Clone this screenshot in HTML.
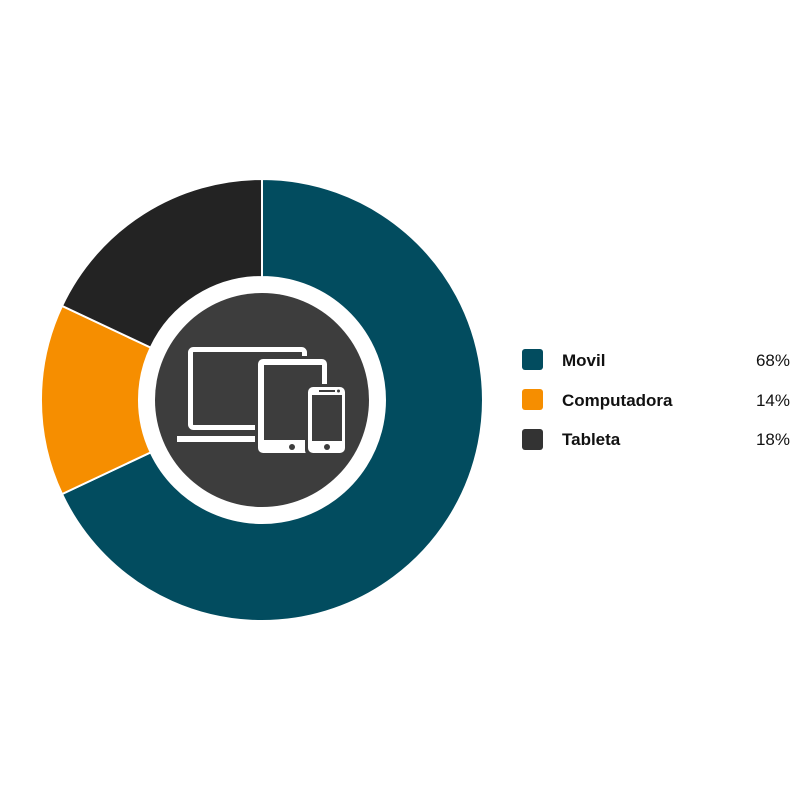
<!DOCTYPE html>
<html><head><style>
body{margin:0;background:#fff;width:800px;height:800px;overflow:hidden}
svg{display:block}
text{font-family:"Liberation Sans",sans-serif;font-size:17px;fill:#111}
</style></head><body>
<svg width="800" height="800" viewBox="0 0 800 800">
<path d="M262,179 A221,221 0 1 1 62,494.1 L150.7,452.4 A123,123 0 1 0 262,277 Z" fill="#024c5f" stroke="#fff" stroke-width="2"/>
<path d="M62,494.1 A221,221 0 0 1 62,305.9 L150.7,347.6 A123,123 0 0 0 150.7,452.4 Z" fill="#f68e00" stroke="#fff" stroke-width="2"/>
<path d="M62,305.9 A221,221 0 0 1 262,179 L262,277 A123,123 0 0 0 150.7,347.6 Z" fill="#232323" stroke="#fff" stroke-width="2"/>
<circle cx="262" cy="400" r="107" fill="#3d3d3d"/>
<rect x="190.5" y="349.5" width="114" height="78" rx="3" fill="none" stroke="#fff" stroke-width="5"/>
<rect x="177" y="436" width="82" height="6" fill="#fff"/>
<rect x="255" y="356" width="75" height="100" rx="6" fill="#3d3d3d"/>
<rect x="258" y="359" width="69" height="94" rx="5" fill="#fff"/>
<rect x="264" y="365" width="58" height="75" fill="#3d3d3d"/>
<circle cx="292" cy="447" r="3" fill="#3d3d3d"/>
<rect x="305" y="384" width="43" height="72" rx="6" fill="#3d3d3d"/>
<rect x="308" y="387" width="37" height="66" rx="5" fill="#fff"/>
<rect x="312" y="395" width="30" height="46" fill="#3d3d3d"/>
<rect x="319" y="390" width="16" height="2" fill="#3d3d3d"/>
<circle cx="338.5" cy="391" r="1.5" fill="#3d3d3d"/>
<circle cx="327" cy="447" r="3" fill="#3d3d3d"/>
<rect x="522" y="349" width="21" height="21" rx="3" fill="#024c5f"/>
<rect x="522" y="389" width="21" height="21" rx="3" fill="#f68e00"/>
<rect x="522" y="429" width="21" height="21" rx="3" fill="#333"/>
<text x="562" y="366" font-weight="bold">Movil</text>
<text x="562" y="406" font-weight="bold">Computadora</text>
<text x="562" y="445" font-weight="bold">Tableta</text>
<text x="790" y="366" text-anchor="end">68%</text>
<text x="790" y="406" text-anchor="end">14%</text>
<text x="790" y="445" text-anchor="end">18%</text>
</svg>
</body></html>
